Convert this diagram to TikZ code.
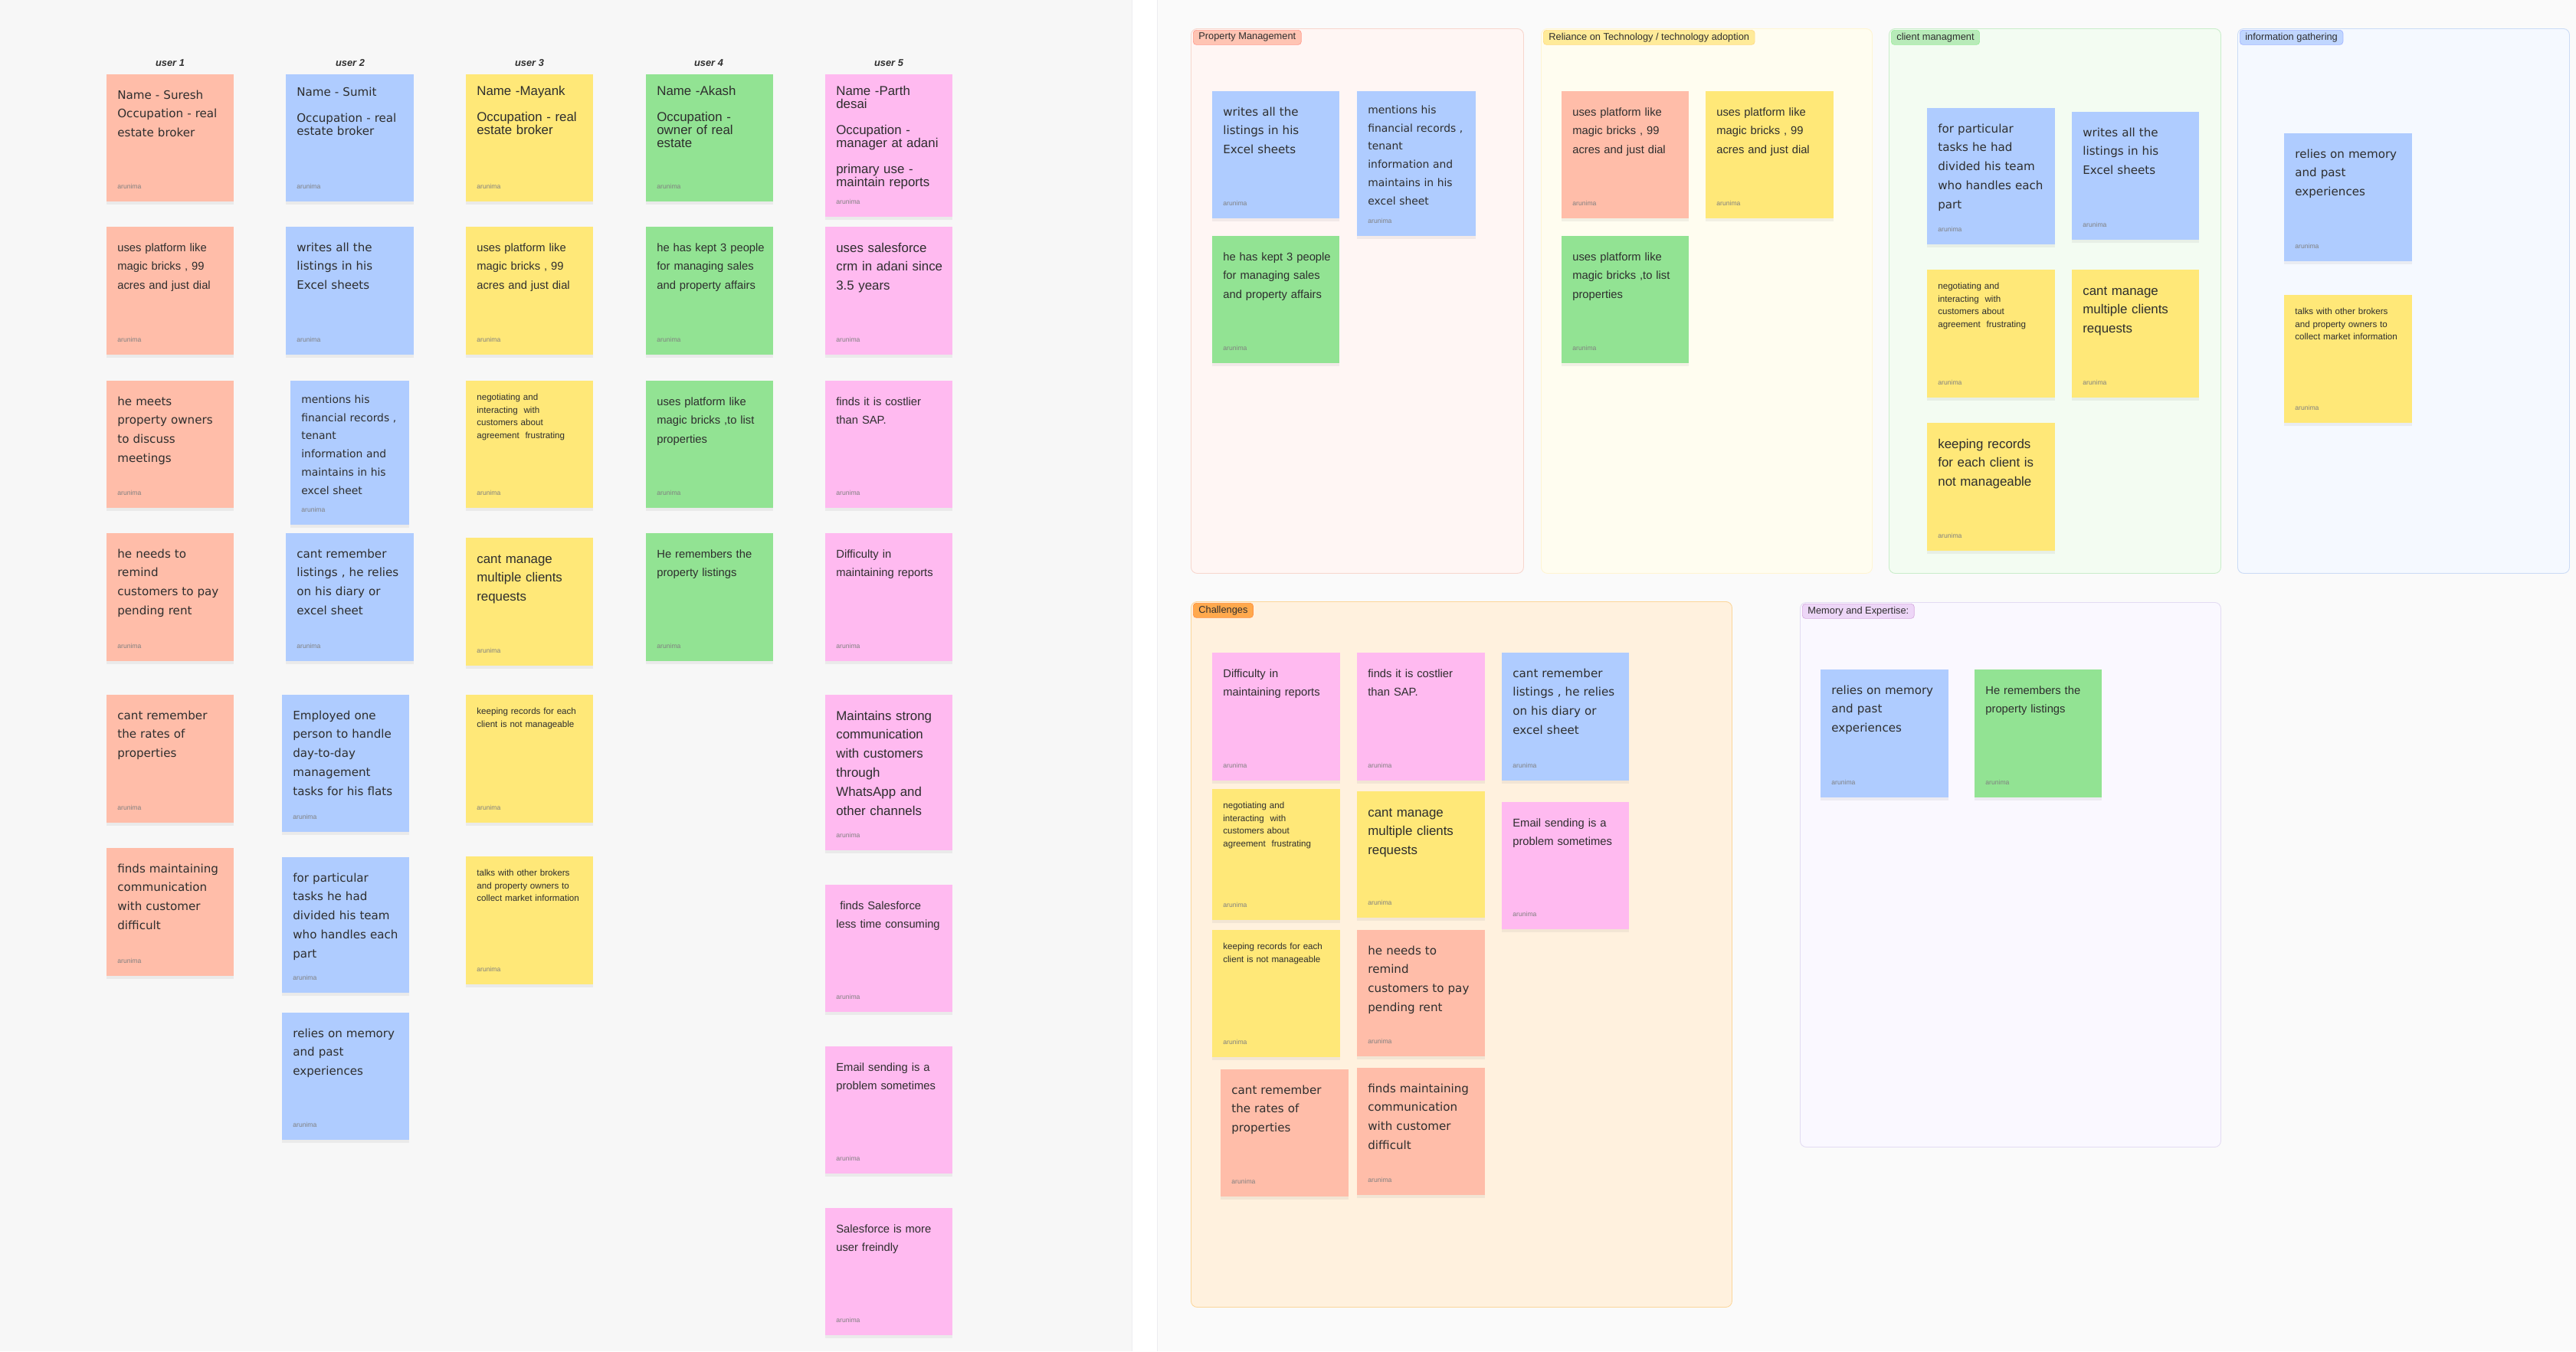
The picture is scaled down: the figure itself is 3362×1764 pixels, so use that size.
\documentclass[tikz,border=0pt]{standalone}
\usepackage{fontspec}
\setmainfont{Liberation Sans}
\newfontfamily\widefont{DejaVu Sans}
\usetikzlibrary{shadows}

\definecolor{ink}{HTML}{2E2E2E}
\definecolor{notered}{HTML}{FFBDA9}
\definecolor{noteblue}{HTML}{AFCCFF}
\definecolor{noteyellow}{HTML}{FFE878}
\definecolor{notegreen}{HTML}{92E393}
\definecolor{notepink}{HTML}{FFBAF0}
\definecolor{leftbg}{HTML}{F7F7F7}
\definecolor{rightbg}{HTML}{FAFAFA}
\definecolor{edge}{HTML}{ECECF1}
\definecolor{pmfill}{HTML}{FFF6F4}
\definecolor{pmline}{HTML}{F7D6CD}
\definecolor{pmtag}{HTML}{FFC4B3}
\definecolor{rtfill}{HTML}{FFFDF0}
\definecolor{rtline}{HTML}{FFF5D2}
\definecolor{rttag}{HTML}{FFEB99}
\definecolor{cmfill}{HTML}{F3FCF2}
\definecolor{cmline}{HTML}{C9EDCA}
\definecolor{cmtag}{HTML}{B8EBB9}
\definecolor{igfill}{HTML}{F5F9FF}
\definecolor{igline}{HTML}{CADBF6}
\definecolor{igtag}{HTML}{C0D6FF}
\definecolor{chfill}{HTML}{FFF1DE}
\definecolor{chline}{HTML}{FBD69A}
\definecolor{chtag}{HTML}{FFA94D}
\definecolor{mefill}{HTML}{FAF8FF}
\definecolor{meline}{HTML}{E3DBF2}
\definecolor{metag}{HTML}{EDD6F7}

% name, x, y, width, height, colour, text style, text
\newcommand{\sticky}[8]{%
  \node[stickybox, fill=#6, minimum width=#4*0.2mm, minimum height=#5*0.2mm] (#1) at (#2,#3) {};
  \node[#7] (#1-txt) at (#1.north west) {#8};
  \node[sig] (#1-sig) at (#1.south west) {arunima};
}

\begin{document}
\begin{tikzpicture}[x=0.2mm, y=-0.2mm,
  stickybox/.style={anchor=north west, inner sep=0, draw=none,
    drop shadow={opacity=0.10, shadow xshift=0mm, shadow yshift=-0.8mm}},
  txt/.style={anchor=base west, inner sep=0, align=left, text width=34mm, text=ink, xshift=2.8mm},
  widetext/.style={txt, yshift=-6.4mm, font={\widefont\fontsize{8.6}{14.2}\selectfont}},
  mentiontext/.style={txt, yshift=-5.9mm, font={\widefont\fontsize{7.9}{13.5}\selectfont}},
  namewide/.style={txt, yshift=-5.6mm, font={\widefont\fontsize{8.6}{9.7}\selectfont\lineskiplimit=-20pt}},
  narrowtext/.style={txt, yshift=-6.4mm, font={\fontsize{8.4}{14.2}\selectfont}},
  bigtext/.style={txt, yshift=-6.6mm, font={\fontsize{9.6}{14.2}\selectfont}},
  namenarrow/.style={txt, yshift=-5.5mm, font={\fontsize{9.6}{9.7}\selectfont\lineskiplimit=-20pt}},
  smalltext/.style={txt, yshift=-5.1mm, font={\fontsize{6.6}{9.5}\selectfont}},
  sig/.style={anchor=base west, inner sep=0, xshift=2.8mm, yshift=3.4mm, text=black!50,
    font={\fontsize{4.9}{5}\selectfont}},
  userlbl/.style={inner sep=0, text=ink, font={\fontsize{7.3}{8}\selectfont\bfseries\itshape}},
  board/.style={anchor=north west, inner sep=0, rounded corners=1.6mm, line width=0.5pt},
  tag/.style={anchor=north west, rounded corners=0.8mm, inner xsep=1.4mm, inner ysep=0,
    minimum height=3.8mm, xshift=0.6mm, yshift=-0.4mm, text=ink, line width=0.4pt,
    font={\fontsize{7.3}{8}\selectfont}}]
  \useasboundingbox (0,0) rectangle (3362,1764);
  % canvas
  \fill[leftbg] (0,0) rectangle (1477,1764);
  \fill[white] (1477,0) rectangle (1510,1764);
  \fill[rightbg] (1510,0) rectangle (3362,1764);
  \draw[edge] (1477,0) -- (1477,1764);
  \draw[edge] (1510,0) -- (1510,1764);

  % interview notes, one column per user
  \node[userlbl] (u1-lbl) at (222,82) {user 1};
  \node[userlbl] (u2-lbl) at (457,82) {user 2};
  \node[userlbl] (u3-lbl) at (691,82) {user 3};
  \node[userlbl] (u4-lbl) at (925,82) {user 4};
  \node[userlbl] (u5-lbl) at (1160,82) {user 5};

  % user 1
  \sticky{uA1}{139}{97}{166}{166}{notered}{widetext}{Name - Suresh\\Occupation - real\\estate broker}
  \sticky{uA2}{139}{296}{166}{167}{notered}{narrowtext}{uses platform like\\magic bricks , 99\\acres and just dial}
  \sticky{uA3}{139}{497}{166}{166}{notered}{widetext}{he meets\\property owners\\to discuss\\meetings}
  \sticky{uA4}{139}{696}{166}{167}{notered}{widetext}{he needs to\\remind\\customers to pay\\pending rent}
  \sticky{uA5}{139}{907}{166}{167}{notered}{widetext}{cant remember\\the rates of\\properties}
  \sticky{uA6}{139}{1107}{166}{167}{notered}{widetext}{finds maintaining\\communication\\with customer\\difficult}

  % user 2
  \sticky{uB1}{373}{97}{167}{166}{noteblue}{namewide}{Name - Sumit\\[9.7pt]Occupation - real\\estate broker}
  \sticky{uB2}{373}{296}{167}{167}{noteblue}{widetext}{writes all the\\listings in his\\Excel sheets}
  \sticky{uB3}{379}{497}{155}{188}{noteblue}{mentiontext}{mentions his\\financial records ,\\tenant\\information and\\maintains in his\\excel sheet}
  \sticky{uB4}{373}{696}{167}{167}{noteblue}{widetext}{cant remember\\listings , he relies\\on his diary or\\excel sheet}
  \sticky{uB5}{368}{907}{166}{179}{noteblue}{widetext}{Employed one\\person to handle\\day-to-day\\management\\tasks for his flats}
  \sticky{uB6}{368}{1119}{166}{177}{noteblue}{widetext}{for particular\\tasks he had\\divided his team\\who handles each\\part}
  \sticky{uB7}{368}{1322}{166}{166}{noteblue}{widetext}{relies on memory\\and past\\experiences}

  % user 3
  \sticky{uC1}{608}{97}{166}{166}{noteyellow}{namenarrow}{Name -Mayank\\[9.7pt]Occupation - real\\estate broker}
  \sticky{uC2}{608}{296}{166}{167}{noteyellow}{narrowtext}{uses platform like\\magic bricks , 99\\acres and just dial}
  \sticky{uC3}{608}{497}{166}{166}{noteyellow}{smalltext}{negotiating and\\interacting\ \ with\\customers about\\agreement\ \ frustrating}
  \sticky{uC4}{608}{702}{166}{167}{noteyellow}{bigtext}{cant manage\\multiple clients\\requests}
  \sticky{uC5}{608}{907}{166}{167}{noteyellow}{smalltext}{keeping records for each\\client is not manageable}
  \sticky{uC6}{608}{1118}{166}{167}{noteyellow}{smalltext}{talks with other brokers\\and property owners to\\collect market information}

  % user 4
  \sticky{uD1}{843}{97}{166}{166}{notegreen}{namenarrow}{Name -Akash\\[9.7pt]Occupation -\\owner of real\\estate}
  \sticky{uD2}{843}{296}{166}{167}{notegreen}{narrowtext}{he has kept 3 people\\for managing sales\\and property affairs}
  \sticky{uD3}{843}{497}{166}{166}{notegreen}{narrowtext}{uses platform like\\magic bricks ,to list\\properties}
  \sticky{uD4}{843}{696}{166}{167}{notegreen}{narrowtext}{He remembers the\\property listings}

  % user 5
  \sticky{uE1}{1077}{97}{166}{186}{notepink}{namenarrow}{Name -Parth\\desai\\[9.7pt]Occupation -\\manager at adani\\[9.7pt]primary use -\\maintain reports}
  \sticky{uE2}{1077}{296}{166}{167}{notepink}{bigtext}{uses salesforce\\crm in adani since\\3.5 years}
  \sticky{uE3}{1077}{497}{166}{166}{notepink}{narrowtext}{finds it is costlier\\than SAP.}
  \sticky{uE4}{1077}{696}{166}{167}{notepink}{narrowtext}{Difficulty in\\maintaining reports}
  \sticky{uE5}{1077}{907}{166}{203}{notepink}{bigtext}{Maintains strong\\communication\\with customers\\through\\WhatsApp and\\other channels}
  \sticky{uE6}{1077}{1155}{166}{166}{notepink}{narrowtext}{\ finds Salesforce\\less time consuming}
  \sticky{uE7}{1077}{1366}{166}{166}{notepink}{narrowtext}{Email sending is a\\problem sometimes}
  \sticky{uE8}{1077}{1577}{166}{166}{notepink}{narrowtext}{Salesforce is more\\user freindly}

  % affinity groups
  \node[board, fill=pmfill, draw=pmline, minimum width=434*0.2mm, minimum height=711*0.2mm] (pm) at (1554,37) {};
  \node[tag, fill=pmtag, draw=pmtag!80!red] (pm-tag) at (pm.north west) {Property Management};
  \node[board, fill=rtfill, draw=rtline, minimum width=432*0.2mm, minimum height=711*0.2mm] (rt) at (2011,37) {};
  \node[tag, fill=rttag, draw=rttag!85!orange] (rt-tag) at (rt.north west) {Reliance on Technology / technology adoption};
  \node[board, fill=cmfill, draw=cmline, minimum width=433*0.2mm, minimum height=711*0.2mm] (cm) at (2465,37) {};
  \node[tag, fill=cmtag, draw=cmtag!85!green] (cm-tag) at (cm.north west) {client managment};
  \node[board, fill=igfill, draw=igline, minimum width=433*0.2mm, minimum height=711*0.2mm] (ig) at (2920,37) {};
  \node[tag, fill=igtag, draw=igtag!85!blue] (ig-tag) at (ig.north west) {information gathering};
  \node[board, fill=chfill, draw=chline, minimum width=706*0.2mm, minimum height=921*0.2mm] (ch) at (1554,785) {};
  \node[tag, fill=chtag, draw=chtag!85!red] (ch-tag) at (ch.north west) {Challenges};
  \node[board, fill=mefill, draw=meline, minimum width=549*0.2mm, minimum height=711*0.2mm] (me) at (2349,786) {};
  \node[tag, fill=metag, draw=metag!80!violet] (me-tag) at (me.north west) {Memory and Expertise:};

  % Property Management
  \sticky{pm1}{1582}{119}{166}{166}{noteblue}{widetext}{writes all the\\listings in his\\Excel sheets}
  \sticky{pm2}{1771}{119}{155}{189}{noteblue}{mentiontext}{mentions his\\financial records ,\\tenant\\information and\\maintains in his\\excel sheet}
  \sticky{pm3}{1582}{308}{166}{166}{notegreen}{narrowtext}{he has kept 3 people\\for managing sales\\and property affairs}

  % Reliance on Technology
  \sticky{rt1}{2038}{119}{166}{166}{notered}{narrowtext}{uses platform like\\magic bricks , 99\\acres and just dial}
  \sticky{rt2}{2226}{119}{167}{166}{noteyellow}{narrowtext}{uses platform like\\magic bricks , 99\\acres and just dial}
  \sticky{rt3}{2038}{308}{166}{166}{notegreen}{narrowtext}{uses platform like\\magic bricks ,to list\\properties}

  % client managment
  \sticky{cm1}{2515}{141}{167}{178}{noteblue}{widetext}{for particular\\tasks he had\\divided his team\\who handles each\\part}
  \sticky{cm2}{2704}{146}{166}{167}{noteblue}{widetext}{writes all the\\listings in his\\Excel sheets}
  \sticky{cm3}{2515}{352}{167}{167}{noteyellow}{smalltext}{negotiating and\\interacting\ \ with\\customers about\\agreement\ \ frustrating}
  \sticky{cm4}{2704}{352}{166}{167}{noteyellow}{bigtext}{cant manage\\multiple clients\\requests}
  \sticky{cm5}{2515}{552}{167}{167}{noteyellow}{bigtext}{keeping records\\for each client is\\not manageable}

  % information gathering
  \sticky{ig1}{2981}{174}{167}{167}{noteblue}{widetext}{relies on memory\\and past\\experiences}
  \sticky{ig2}{2981}{385}{167}{167}{noteyellow}{smalltext}{talks with other brokers\\and property owners to\\collect market information}

  % Challenges
  \sticky{ch1}{1582}{852}{167}{167}{notepink}{narrowtext}{Difficulty in\\maintaining reports}
  \sticky{ch2}{1771}{852}{167}{167}{notepink}{narrowtext}{finds it is costlier\\than SAP.}
  \sticky{ch3}{1960}{852}{166}{167}{noteblue}{widetext}{cant remember\\listings , he relies\\on his diary or\\excel sheet}
  \sticky{ch4}{1582}{1030}{167}{171}{noteyellow}{smalltext}{negotiating and\\interacting\ \ with\\customers about\\agreement\ \ frustrating}
  \sticky{ch5}{1771}{1033}{167}{165}{noteyellow}{bigtext}{cant manage\\multiple clients\\requests}
  \sticky{ch6}{1960}{1047}{166}{166}{notepink}{narrowtext}{Email sending is a\\problem sometimes}
  \sticky{ch7}{1582}{1214}{167}{166}{noteyellow}{smalltext}{keeping records for each\\client is not manageable}
  \sticky{ch8}{1771}{1214}{167}{165}{notered}{widetext}{he needs to\\remind\\customers to pay\\pending rent}
  \sticky{ch9}{1593}{1396}{167}{166}{notered}{widetext}{cant remember\\the rates of\\properties}
  \sticky{ch10}{1771}{1394}{167}{166}{notered}{widetext}{finds maintaining\\communication\\with customer\\difficult}

  % Memory and Expertise
  \sticky{me1}{2376}{874}{167}{167}{noteblue}{widetext}{relies on memory\\and past\\experiences}
  \sticky{me2}{2577}{874}{166}{167}{notegreen}{narrowtext}{He remembers the\\property listings}
\end{tikzpicture}
\end{document}
